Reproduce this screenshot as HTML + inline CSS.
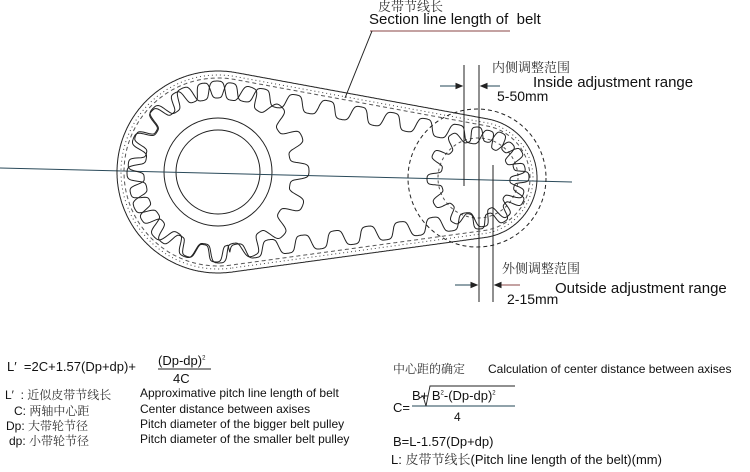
<!DOCTYPE html>
<html><head><meta charset="utf-8">
<style>
body{margin:0;background:#fff;}
#w{position:relative;width:750px;height:472px;overflow:hidden;font-family:"Liberation Sans","Noto Sans CJK SC",sans-serif;color:#111;}
.t{position:absolute;white-space:nowrap;}
.cn{font-family:"Noto Serif CJK SC","Liberation Serif",serif;color:#333;}
svg{position:absolute;left:0;top:0;}
</style></head><body>
<div id="w">
<svg id="s" width="750" height="472" viewBox="0 0 750 472">
<g fill="none" stroke="#222" stroke-width="1">
<circle cx="218" cy="172" r="54"/>
<circle cx="218" cy="172" r="42"/>
<line x1="0" y1="168" x2="572" y2="182" stroke="#2a4a5a"/>
<circle cx="477" cy="178" r="69" stroke-dasharray="4,3"/>
<circle cx="478" cy="178" r="40" stroke-dasharray="3,3" stroke="#555"/>
<line x1="464" y1="65" x2="464" y2="186"/>
<line x1="479" y1="65" x2="479" y2="302"/>
<line x1="493" y1="165" x2="493" y2="302"/>
<line x1="370" y1="31" x2="510" y2="31" stroke="#844"/>
<line x1="372" y1="31" x2="345" y2="98"/>
<line x1="440" y1="86" x2="460" y2="86" stroke="#245"/><path d="M462 86 l-6 -2.5 v5z" fill="#222"/>
<line x1="483" y1="86" x2="500" y2="86" stroke="#245"/><path d="M481 86 l6 -2.5 v5z" fill="#222"/>
<line x1="455" y1="285" x2="474" y2="285" stroke="#245"/><path d="M477 285 l-6 -2.5 v5z" fill="#222"/>
<line x1="498" y1="285" x2="520" y2="285" stroke="#844"/><path d="M495 285 l6 -2.5 v5z" fill="#222"/>
<line x1="158" y1="369" x2="211" y2="369"/>
<line x1="412" y1="406" x2="515" y2="406" stroke="#245"/>
<path d="M420 398 l3 -2 l3 10 l4 -20 h85" stroke-width="0.9"/>
</g>
<g id="dyn" fill="none" stroke="#222" stroke-width="1"></g>
</svg>
<div class="t cn" style="left:378px;top:-4px;font-size:13px;">皮带节线长</div>
<div class="t" style="left:369px;top:11px;font-size:15px;">Section line length of&nbsp; belt</div>
<div class="t cn" style="left:492px;top:57px;font-size:13px;">内侧调整范围</div>
<div class="t" style="left:533px;top:74px;font-size:15px;">Inside adjustment range</div>
<div class="t" style="left:497px;top:88px;font-size:14px;">5-50mm</div>
<div class="t cn" style="left:502px;top:258px;font-size:13px;">外侧调整范围</div>
<div class="t" style="left:555px;top:280px;font-size:15px;">Outside adjustment range</div>
<div class="t" style="left:507px;top:291px;font-size:14px;">2-15mm</div>

<div class="t" style="left:7px;top:359px;font-size:13px;">L′&nbsp; =2C+1.57(Dp+dp)+</div>
<div class="t" style="left:158px;top:353px;font-size:13px;">(Dp-dp)<sup style="font-size:6px">2</sup></div>
<div class="t" style="left:173px;top:371px;font-size:13px;">4C</div>
<div class="t" style="left:5px;top:386px;font-size:12px;">L′&nbsp; : <span class="cn">近似皮带节线长</span></div>
<div class="t" style="left:14px;top:402px;font-size:12px;">C: <span class="cn">两轴中心距</span></div>
<div class="t" style="left:6px;top:417px;font-size:12px;">Dp: <span class="cn">大带轮节径</span></div>
<div class="t" style="left:9px;top:432px;font-size:12px;">dp: <span class="cn">小带轮节径</span></div>
<div class="t" style="left:140px;top:386px;font-size:12px;">Approximative pitch line length of belt</div>
<div class="t" style="left:140px;top:402px;font-size:12px;">Center distance between axises</div>
<div class="t" style="left:140px;top:417px;font-size:12px;">Pitch diameter of the bigger belt pulley</div>
<div class="t" style="left:140px;top:432px;font-size:12px;">Pitch diameter of the smaller belt pulley</div>

<div class="t cn" style="left:393px;top:360px;font-size:12px;">中心距的确定</div>
<div class="t" style="left:488px;top:362px;font-size:12px;">Calculation of center distance between axises</div>
<div class="t" style="left:393px;top:400px;font-size:13px;">C=</div>
<div class="t" style="left:412px;top:388px;font-size:13px;">B+&nbsp;B<sup style="font-size:6px">2</sup>-(Dp-dp)<sup style="font-size:6px">2</sup></div>
<div class="t" style="left:454px;top:410px;font-size:12px;">4</div>
<div class="t" style="left:393px;top:434px;font-size:13px;">B=L-1.57(Dp+dp)</div>
<div class="t" style="left:391px;top:449px;font-size:13px;">L: <span class="cn">皮带节线长</span>(Pitch line length of the belt)(mm)</div>
</div>
<script>
(function(){
var g=document.getElementById('dyn');
function add(d,attrs){var p=document.createElementNS('http://www.w3.org/2000/svg','path');p.setAttribute('d',d);for(var k in attrs)p.setAttribute(k,attrs[k]);g.appendChild(p);}
function gear(cx,cy,rm,amp,n,ph){var d='';for(var i=0;i<=720;i++){var t=i/720*2*Math.PI;var r=rm+amp*Math.tanh(2.2*Math.cos(n*t+ph))/Math.tanh(2.2);var x=cx+r*Math.cos(t),y=cy+r*Math.sin(t);d+=(i?'L':'M')+x.toFixed(1)+' '+y.toFixed(1);}return d+'Z';}
add(gear(218,172,82,9,16,0.2));
add(gear(478,178,44,7,12,0.3));
var A={x:218,y:172,r:101},B={x:477,y:178,r:60};
var dx=B.x-A.x,dy=B.y-A.y,D=Math.hypot(dx,dy),base=Math.atan2(dy,dx),al=Math.acos((A.r-B.r)/D);
function outline(off){
 var pts=[],ra=A.r-off,rb=B.r-off,step=1;
 var a1=base+al, a2=base-al+2*Math.PI;
 var L1=(a2-a1)*ra;for(var s=0;s<=L1;s+=step){var t=a1+s/ra;pts.push([A.x+ra*Math.cos(t),A.y+ra*Math.sin(t),Math.cos(t),Math.sin(t)]);}
 var ta=base-al;
 var p1=[A.x+ra*Math.cos(ta),A.y+ra*Math.sin(ta)],p2=[B.x+rb*Math.cos(ta),B.y+rb*Math.sin(ta)];
 var L=Math.hypot(p2[0]-p1[0],p2[1]-p1[1]);for(s=0;s<=L;s+=step){var f=s/L;pts.push([p1[0]+f*(p2[0]-p1[0]),p1[1]+f*(p2[1]-p1[1]),Math.cos(ta),Math.sin(ta)]);}
 var b1=base-al,b2=base+al,L2=(b2-b1)*rb;for(s=0;s<=L2;s+=step){t=b1+s/rb;pts.push([B.x+rb*Math.cos(t),B.y+rb*Math.sin(t),Math.cos(t),Math.sin(t)]);}
 var tb=base+al;p1=[B.x+rb*Math.cos(tb),B.y+rb*Math.sin(tb)];p2=[A.x+ra*Math.cos(tb),A.y+ra*Math.sin(tb)];
 L=Math.hypot(p2[0]-p1[0],p2[1]-p1[1]);for(s=0;s<=L;s+=step){f=s/L;pts.push([p1[0]+f*(p2[0]-p1[0]),p1[1]+f*(p2[1]-p1[1]),Math.cos(tb),Math.sin(tb)]);}
 return pts;}
function toD(pts,fn){var d='';pts.forEach(function(p,i){var o=fn?fn(p,i):0;d+=(i?'L':'M')+(p[0]-p[2]*o).toFixed(1)+' '+(p[1]-p[3]*o).toFixed(1);});return d+'Z';}
add(toD(outline(0)));
add(toD(outline(4)),{'stroke-dasharray':'1,3','stroke':'#444'});
add(toD(outline(7)),{'stroke-dasharray':'4,3','stroke':'#555'});
var P=outline(0);
add(toD(P,function(p,i){return 19+8*Math.tanh(2.2*Math.cos(i/33*2*Math.PI))/Math.tanh(2.2);}));
})();
</script>
</body></html>
